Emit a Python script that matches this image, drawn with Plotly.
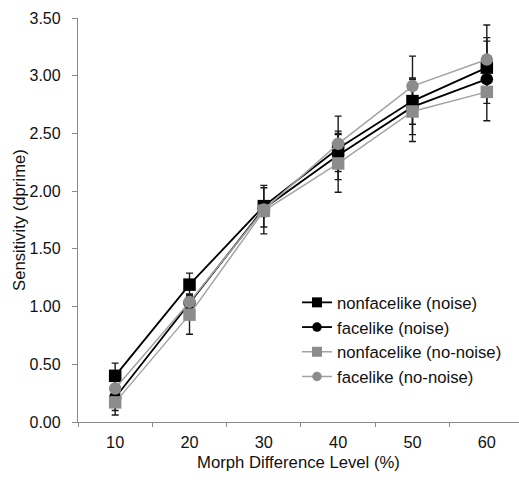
import plotly.graph_objects as go

# Morph difference levels (%) on the x axis
levels = ["10", "20", "30", "40", "50", "60"]

# Mean sensitivity (d') per condition
nonface_noise = [0.40, 1.19, 1.87, 2.37, 2.78, 3.07]
face_noise = [0.21, 1.03, 1.85, 2.31, 2.73, 2.97]
nonface_nonoise = [0.17, 0.93, 1.83, 2.24, 2.69, 2.86]
face_nonoise = [0.29, 1.04, 1.84, 2.41, 2.91, 3.14]

# Error bar half-widths
nonface_noise_err = [0.11, 0.10, 0.18, 0.13, 0.20, 0.23]
face_noise_err = [0.11, 0.08, 0.06, 0.21, 0.24, 0.36]
nonface_nonoise_err = [0.11, 0.17, 0.20, 0.25, 0.26, 0.10]
face_nonoise_err = [0.08, 0.06, 0.06, 0.24, 0.26, 0.30]

y_ticks = [0.0, 0.5, 1.0, 1.5, 2.0, 2.5, 3.0, 3.5]

BLACK = "#000000"
GRAY_MARK = "#8c8c8c"
GRAY_LINE = "#a3a3a3"
AXIS = "#8a8a8a"
FONT = "Liberation Sans, Arial, sans-serif"
FS = 16.7

series = [
    ("nonfacelike (noise)", nonface_noise, nonface_noise_err, "square", BLACK, BLACK, 1.8),
    ("facelike (noise)", face_noise, face_noise_err, "circle", BLACK, BLACK, 1.8),
    ("nonfacelike (no-noise)", nonface_nonoise, nonface_nonoise_err, "square", GRAY_MARK, GRAY_LINE, 1.5),
    ("facelike (no-noise)", face_nonoise, face_nonoise_err, "circle", GRAY_MARK, GRAY_LINE, 1.5),
]

fig = go.Figure()

# Error bars first so every marker sits on top of them
for name, vals, err, sym, mcol, lcol, lw in series:
    fig.add_trace(go.Scatter(
        x=levels, y=vals, mode="markers",
        marker=dict(size=2, color="rgba(0,0,0,0)"),
        error_y=dict(type="data", array=err, visible=True,
                     color="#1a1a1a", thickness=1.4, width=3.5),
        showlegend=False, hoverinfo="skip",
    ))

# Lines and markers
for name, vals, err, sym, mcol, lcol, lw in series:
    fig.add_trace(go.Scatter(
        x=levels, y=vals, mode="lines+markers", name=name,
        line=dict(color=lcol, width=lw),
        marker=dict(symbol=sym, size=12.5, color=mcol, line=dict(width=0)),
        showlegend=False,
    ))

# Legend entries with smaller symbols
for name, vals, err, sym, mcol, lcol, lw in series:
    fig.add_trace(go.Scatter(
        x=[None], y=[None], mode="lines+markers", name=name,
        line=dict(color=lcol, width=lw),
        marker=dict(symbol=sym, size=10 if sym == "square" else 9.5,
                    color=mcol, line=dict(width=0)),
        showlegend=True,
    ))

fig.update_layout(
    width=519, height=483,
    margin=dict(l=78, r=0, t=18, b=61),
    paper_bgcolor="white", plot_bgcolor="white",
    font=dict(family=FONT, size=FS, color="#111111"),
    showlegend=True,
    legend=dict(
        x=(297 - 78) / 441, y=(422 - 285) / 404,
        xanchor="left", yanchor="top",
        bgcolor="rgba(0,0,0,0)", borderwidth=0,
        font=dict(size=FS), itemwidth=30,
        tracegroupgap=0,
    ),
    xaxis=dict(
        type="category", range=[-0.5, 5.433],
        tickson="boundaries", ticks="outside", ticklen=4,
        tickcolor=AXIS, tickwidth=1.2,
        showline=True, linecolor=AXIS, linewidth=1.3,
        showgrid=False, zeroline=False,
        tickfont=dict(size=16.3), ticklabelstandoff=5,
        title=dict(text="Morph Difference Level (%)", font=dict(size=FS), standoff=6),
    ),
    yaxis=dict(
        range=[0, 3.5], tickvals=y_ticks, tickformat=".2f",
        ticks="outside", ticklen=5, tickcolor=AXIS, tickwidth=1.2,
        showline=True, linecolor=AXIS, linewidth=1.3,
        showgrid=False, zeroline=False,
        tickfont=dict(size=16), ticklabelstandoff=8,
    ),
    annotations=[dict(
        text="Sensitivity (dprime)", textangle=-90,
        xref="paper", yref="paper", x=(19 - 78) / 441, y=0.5,
        xanchor="center", yanchor="middle", showarrow=False,
        font=dict(size=FS),
    )],
)

fig.write_html("out.html")
